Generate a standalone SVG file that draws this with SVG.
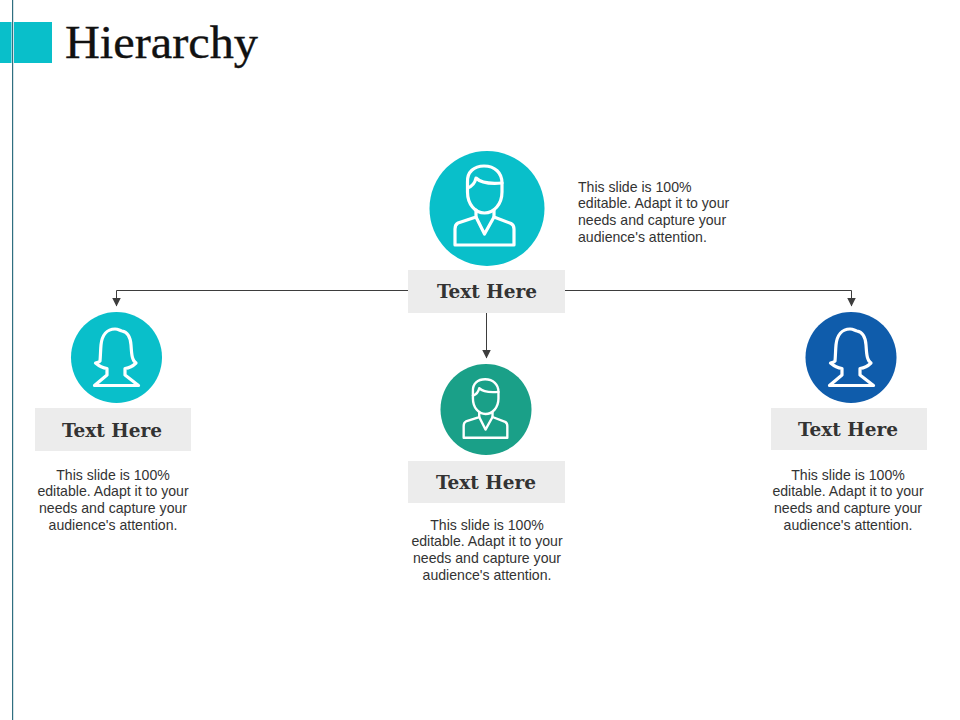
<svg xmlns="http://www.w3.org/2000/svg" width="960" height="720" viewBox="0 0 960 720">
<style>
.ic{fill:none;stroke:#fff;stroke-width:3.2;stroke-linejoin:round;stroke-linecap:round}
.box{fill:#ececec}
.lb{font-family:"DejaVu Serif","Liberation Serif",serif;font-weight:700;font-size:18.500px;fill:#333;text-anchor:middle}
.bd{font-family:"Liberation Sans",Arial,sans-serif;font-size:14.100px;fill:#333;text-anchor:middle}
.bl{text-anchor:start}
.cn{fill:none;stroke:#3d3d3d;stroke-width:1}
</style>
<defs>
<marker id="ah" markerWidth="9" markerHeight="10" refX="8.500" refY="4.500" orient="auto" markerUnits="userSpaceOnUse" viewBox="0 0 9 9"><path d="M0 0L9 4.500L0 9Z" fill="#3d3d3d"/></marker>
<g id="male">
<path class="ic" d="M467.500 182C467 172 474 166 484 166C495 166 502 173 502 183V192C502 204 494 213 484.500 213C475 213 467.500 204 467.500 192Z"/>
<path class="ic" d="M467.500 188C473 186 475 183 476 178C481 183 491 184 502 183"/>
<path class="ic" d="M476 210V217L458 223C456 224 455 226 455 229V245H514V229C514 226 513 224.500 511 223.500L494 217V210"/>
<path class="ic" d="M476 217L484.500 234L494 217"/>
</g>
<g id="female">
<path class="ic" d="M100 361C100.500 356 100.500 350 101 345C102 335 107 329 115 329C118 329 120 330.500 122 331C128 332 130.500 338 131 345C131.500 351 131.500 356 133 359C133.500 361 135 362 136 363C133 366 129 368 125 368.500V375L138.500 385.500H94.500L107 375V368.500C103 368 99 366 95.500 363C97.500 362.500 99.500 362 100 361Z"/>
</g>
</defs>
<rect width="960" height="720" fill="#fff"/>
<g id="header">
<rect x="0" y="22" width="52" height="41" fill="#09bfca"/>
<rect x="11.500" y="0" width="2.500" height="720" fill="#fff"/>
<rect x="12" y="0" width="1.200" height="720" fill="#2f6f80"/>
<text x="65" y="58" font-family="'Liberation Serif',serif" font-size="46" fill="#111" stroke="#111" stroke-width=".35" textLength="193" lengthAdjust="spacingAndGlyphs">Hierarchy</text>
</g>
<g id="connectors">
<path class="cn" d="M408 290.500H116.500V306" marker-end="url(#ah)"/>
<path class="cn" d="M565 290.500H851.500V306" marker-end="url(#ah)"/>
<path class="cn" d="M486.500 313V358" marker-end="url(#ah)"/>
</g>
<g id="node-top">
<circle cx="487" cy="208.500" r="57.500" fill="#09bfca"/>
<use href="#male"/>
<rect class="box" x="408" y="270" width="157" height="43"/>
<text class="lb" x="487" y="297.500">Text Here</text>
<text class="bd bl" x="578" y="192">This slide is 100%</text>
<text class="bd bl" x="578" y="208">editable. Adapt it to your</text>
<text class="bd bl" x="578" y="225">needs and capture your</text>
<text class="bd bl" x="578" y="242">audience's attention.</text>
</g>
<g id="node-left">
<circle cx="116.500" cy="357.500" r="45.500" fill="#09bfca"/>
<use href="#female"/>
<rect class="box" x="35" y="408" width="156" height="43"/>
<text class="lb" x="112" y="436.500">Text Here</text>
<text class="bd" x="113" y="480">This slide is 100%</text>
<text class="bd" x="113" y="496">editable. Adapt it to your</text>
<text class="bd" x="113" y="513">needs and capture your</text>
<text class="bd" x="113" y="530">audience's attention.</text>
</g>
<g id="node-middle">
<circle cx="486" cy="409.500" r="45.500" fill="#1aa088"/>
<use href="#male" transform="translate(485.500 408.500) scale(.74) translate(-484.500 -205.500)"/>
<rect class="box" x="408" y="461" width="157" height="42"/>
<text class="lb" x="486" y="488.500">Text Here</text>
<text class="bd" x="487" y="530">This slide is 100%</text>
<text class="bd" x="487" y="546">editable. Adapt it to your</text>
<text class="bd" x="487" y="563">needs and capture your</text>
<text class="bd" x="487" y="580">audience's attention.</text>
</g>
<g id="node-right">
<circle cx="851" cy="357.500" r="45.500" fill="#0f5cab"/>
<use href="#female" x="735"/>
<rect class="box" x="771" y="408" width="156" height="42"/>
<text class="lb" x="848" y="435.500">Text Here</text>
<text class="bd" x="848" y="480">This slide is 100%</text>
<text class="bd" x="848" y="496">editable. Adapt it to your</text>
<text class="bd" x="848" y="513">needs and capture your</text>
<text class="bd" x="848" y="530">audience's attention.</text>
</g>
</svg>
